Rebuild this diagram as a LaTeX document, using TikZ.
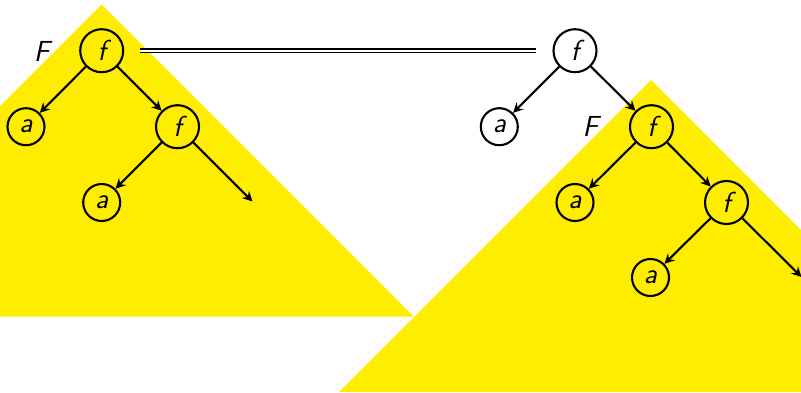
\documentclass[tikz,border=0pt]{standalone}
\usetikzlibrary{arrows.meta}
\definecolor{hilite}{RGB}{255,237,0}
\begin{document}
\begin{tikzpicture}[x=1pt,y=-1pt,
  lbl/.style={font=\fontsize{29}{32}\selectfont\sffamily\itshape},
  fnode/.style={lbl,circle,draw,line width=2.1pt,minimum size=43pt,inner sep=0pt},
  anode/.style={lbl,circle,draw,line width=2.1pt,minimum size=37pt,inner sep=0pt},
  edge/.style={line width=2.1pt,-{Stealth[length=10pt,width=10pt,inset=3.5pt]}},
  eqline/.style={double,line width=1.5pt,double distance=2.3pt,shorten <=16pt,shorten >=16pt}]
\clip (0,0) rectangle (801,392);
% yellow triangles
\fill[hilite] (101.7,4.5) -- (101.7+312,316.5) -- (101.7-312,316.5) -- cycle;
\fill[hilite] (651,80) -- (651+312,392) -- (651-312,392) -- cycle;
% left tree
\node[fnode] (L1) at (101.7,50.7) {f};
\node[anode] (La1) at (26,126.7) {a};
\node[fnode] (L2) at (177.5,126.7) {f};
\node[anode] (La2) at (101.7,202.5) {a};
\coordinate (Lend) at (252.5,201.5);
\node[lbl] (LF) at (41.7,51) {F};
\draw[edge] (L1) -- (La1);
\draw[edge] (L1) -- (L2);
\draw[edge] (L2) -- (La2);
\draw[edge] (L2) -- (Lend);
% right tree
\node[fnode] (R1) at (575,50.7) {f};
\node[anode] (Ra1) at (499.3,126.7) {a};
\node[fnode] (R2) at (651.5,126.7) {f};
\node[anode] (Ra2) at (575,202.5) {a};
\node[fnode] (R3) at (726.5,202.5) {f};
\node[anode] (Ra3) at (650.5,277.5) {a};
\coordinate (Rend) at (801.5,277);
\node[lbl] (RF) at (590.5,126.7) {F};
\draw[edge] (R1) -- (Ra1);
\draw[edge] (R1) -- (R2);
\draw[edge] (R2) -- (Ra2);
\draw[edge] (R2) -- (R3);
\draw[edge] (R3) -- (Ra3);
\draw[edge] (R3) -- (Rend);
% equality
\draw[eqline] (L1) -- (R1);
\end{tikzpicture}
\end{document}
